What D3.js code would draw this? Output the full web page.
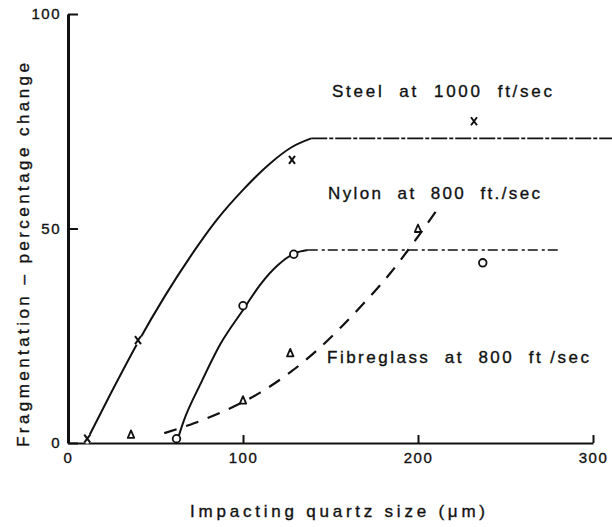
<!DOCTYPE html>
<html>
<head>
<meta charset="utf-8">
<script src="https://cdn.jsdelivr.net/npm/d3@7"></script>
<style>
  html, body { margin: 0; padding: 0; background: #fff; }
  svg { display: block; }
  text { font-family: "Liberation Sans", Arial, sans-serif; fill: #111; stroke: #111; stroke-width: 0.35; }
</style>
</head>
<body>
<svg id="chart" width="612" height="527"></svg>
<script>
// Axis ticks
const xTicks = [0, 100, 200, 300];
const yTicks = [0, 50, 100];

// Measured points (impacting quartz size in µm, fragmentation %)
const steelPoints = [[11, 1], [40, 24], [128, 66], [232, 75]];
const nylonPoints = [[62, 1], [100, 32], [129, 44], [237, 42]];
const fibrePoints = [[36, 2], [100, 10], [127, 21], [200, 50]];

// Fitted curves
const steelCurve = [[10, 0], [25, 12], [40, 23.5], [55, 34], [70, 43.5], [85, 52], [100, 59], [115, 65], [128, 69], [139, 71]];
const steelPlateau = [[139, 71], [311, 71]];
const nylonCurve = [[62, 0], [66, 5], [76, 14], [87, 23], [100, 31], [110, 37], [120, 41.5], [130, 44.3], [137, 45]];
const nylonPlateau = [[137, 45], [282, 45]];
const fibreCurve = [[55, 2.3], [72, 4.6], [89, 7.4], [110, 11.8], [128, 16.8], [142, 21.5], [156, 27], [170, 33], [184, 39.5], [198, 47], [212, 55]];

// Curve labels
const labels = [
  { text: "Steel  at  1000  ft/sec", x: 332, y: 97, width: 220 },
  { text: "Nylon  at  800  ft./sec", x: 328, y: 199, width: 212 },
  { text: "Fibreglass  at  800  ft /sec", x: 327, y: 363, width: 262 }
];

const svg = d3.select("#chart");
const x = d3.scaleLinear().domain([0, 300]).range([68, 593]);
const y = d3.scaleLinear().domain([0, 100]).range([443, 14]);

// X axis with ticks pointing up into the plot
const gx = svg.append("g")
  .attr("transform", `translate(0,${y(0)})`)
  .call(d3.axisBottom(x).tickValues(xTicks).tickSizeInner(-8).tickSizeOuter(0).tickPadding(9));
gx.select(".domain").attr("stroke", "#111").attr("stroke-width", 2);
gx.selectAll(".tick line").attr("stroke", "#111").attr("stroke-width", 2);
gx.selectAll(".tick text").attr("font-size", 15).attr("letter-spacing", 1.5).attr("fill", "#111")
  .attr("font-family", "Liberation Sans, Arial, sans-serif");

// Y axis with ticks pointing right
const gy = svg.append("g")
  .attr("transform", `translate(${x(0)},0)`)
  .call(d3.axisLeft(y).tickValues(yTicks).tickSizeInner(-10).tickSizeOuter(0).tickPadding(7));
gy.select(".domain").attr("stroke", "#111").attr("stroke-width", 3);
gy.selectAll(".tick line").attr("stroke", "#111").attr("stroke-width", 2);
gy.selectAll(".tick text").attr("font-size", 15).attr("letter-spacing", 1.5).attr("fill", "#111")
  .attr("font-family", "Liberation Sans, Arial, sans-serif");

// Axis titles
svg.append("text")
  .attr("x", 190).attr("y", 517)
  .attr("font-size", 17)
  .attr("textLength", 295).attr("lengthAdjust", "spacing")
  .text("Impacting  quartz  size  (\u03bcm)");

svg.append("text")
  .attr("transform", "translate(29,447) rotate(-90)")
  .attr("font-size", 17)
  .attr("textLength", 384).attr("lengthAdjust", "spacing")
  .text("Fragmentation \u2013 percentage  change");

// Lines
const line = d3.line().x(d => x(d[0])).y(d => y(d[1])).curve(d3.curveMonotoneX);
const plot = svg.append("g").attr("fill", "none").attr("stroke", "#111").attr("stroke-linecap", "butt");

plot.append("path").datum(steelCurve).attr("d", line).attr("stroke-width", 2);
plot.append("path").datum(steelPlateau).attr("d", line).attr("stroke-width", 1.6)
  .attr("stroke-dasharray", "16,2,4,2");
plot.append("path").datum(nylonCurve).attr("d", line).attr("stroke-width", 2);
plot.append("path").datum(nylonPlateau).attr("d", line).attr("stroke-width", 1.6)
  .attr("stroke-dasharray", "10,4,3,3");
plot.append("path").datum(fibreCurve).attr("d", line).attr("stroke-width", 2.2)
  .attr("stroke-dasharray", "13,10");

// Markers
const marks = svg.append("g");
marks.selectAll(".steel").data(steelPoints).join("g")
  .attr("transform", d => `translate(${x(d[0])},${y(d[1])})`)
  .call(g => g.append("circle").attr("r", 5).attr("fill", "#fff"))
  .call(g => g.append("path").attr("d", "M-3,-4L3,4M3,-4L-3,4")
    .attr("stroke", "#111").attr("stroke-width", 2).attr("fill", "none"));

marks.selectAll(".nylon").data(nylonPoints).join("circle")
  .attr("cx", d => x(d[0])).attr("cy", d => y(d[1])).attr("r", 3.8)
  .attr("fill", "#fff").attr("stroke", "#111").attr("stroke-width", 1.8);

marks.selectAll(".fibre").data(fibrePoints).join("path")
  .attr("transform", d => `translate(${x(d[0])},${y(d[1])})`)
  .attr("d", "M0,-4L3.2,3.5L-3.2,3.5Z")
  .attr("fill", "#fff").attr("stroke", "#111").attr("stroke-width", 1.8).attr("stroke-linejoin", "round");

// Curve labels
svg.append("g").selectAll("text").data(labels).join("text")
  .attr("x", d => d.x).attr("y", d => d.y)
  .attr("font-size", 17)
  .attr("textLength", d => d.width).attr("lengthAdjust", "spacing")
  .style("white-space", "pre")
  .text(d => d.text);
</script>
</body>
</html>
